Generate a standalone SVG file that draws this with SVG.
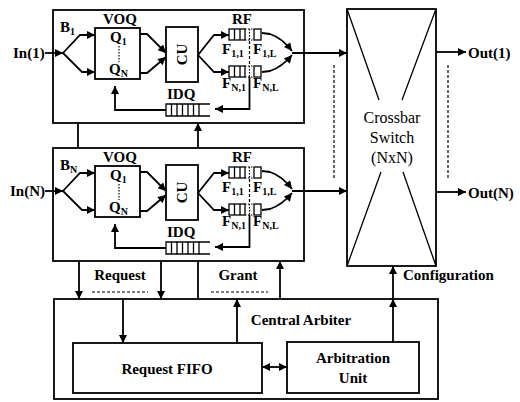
<svg xmlns="http://www.w3.org/2000/svg" width="520" height="402" viewBox="0 0 520 402">
<style>
text{font-family:"Liberation Serif","Times New Roman",serif;font-weight:bold;font-size:15px;fill:#000}
.n{font-weight:normal;font-size:16px}
.sub{font-size:10px}
.box{fill:none;stroke:#000;stroke-width:1.8}
.ln{fill:none;stroke:#000;stroke-width:1.8}
.a{marker-end:url(#ah)}
.dash{fill:none;stroke:#000;stroke-width:1.2;stroke-dasharray:3,2}
.dot{fill:none;stroke:#000;stroke-width:1.2;stroke-dasharray:1.5,1.5}
.thin{fill:none;stroke:#000;stroke-width:1.3}
</style>
<defs>
<marker id="ah" viewBox="0 0 10 10" refX="10" refY="5" markerWidth="10" markerHeight="8" markerUnits="userSpaceOnUse" orient="auto-start-reverse"><path d="M0,0 L10,5 L0,10 z" fill="#000"/></marker>
<g id="buf">
<rect class="box" x="53" y="10" width="251" height="113"/>
<path class="ln a" d="M45,53 L63,53"/>
<path class="ln a" d="M63,53 L80,35 L95,35"/>
<path class="ln a" d="M63,53 L82,72 L95,72"/>
<rect class="box" x="95" y="28" width="45" height="51"/>
<text x="120" y="24" text-anchor="middle">VOQ</text>
<text x="110" y="42">Q<tspan class="sub" dy="3">1</tspan></text>
<path class="dot" d="M119,46 L119,62"/>
<text x="109" y="74">Q<tspan class="sub" dy="3">N</tspan></text>
<path class="ln a" d="M140,34 L147,34 L166,53"/>
<path class="ln a" d="M140,73 L147,73 L166,57"/>
<rect class="box" x="166" y="27" width="32" height="55"/>
<text transform="translate(182,54.5) rotate(-90)" text-anchor="middle" dominant-baseline="central" font-size="18">CU</text>
<path class="ln a" d="M198,55 L214,35 L229,35"/>
<path class="ln a" d="M198,55 L214,72 L229,72"/>
<text x="232" y="24" font-size="14">RF</text>
<g>
<rect class="thin" x="229" y="29" width="16" height="11"/>
<path class="thin" d="M234.5,29 V40 M240,29 V40"/>
<path class="dot" d="M245,29 H254 M245,40 H254 M249.5,29 V40"/>
<rect class="thin" x="254" y="29" width="7" height="11"/>
</g>
<g>
<rect class="thin" x="229" y="66" width="16" height="11"/>
<path class="thin" d="M234.5,66 V77 M240,66 V77"/>
<path class="dot" d="M245,66 H254 M245,77 H254 M249.5,66 V77"/>
<rect class="thin" x="254" y="66" width="7" height="11"/>
</g>
<path class="dash" d="M249.5,41 L249.5,65"/>
<text x="222" y="54">F<tspan class="sub" dy="3">1,1</tspan></text>
<text x="253" y="54">F<tspan class="sub" dy="3">1,L</tspan></text>
<text x="222" y="88">F<tspan class="sub" dy="3">N,1</tspan></text>
<text x="253" y="88">F<tspan class="sub" dy="3">N,L</tspan></text>
<path class="ln a" d="M249.5,77 L249.5,109 L215,109"/>
<text x="167" y="99">IDQ</text>
<path class="thin" d="M210,104 H166 V116 H210 M171.5,104 V116 M177,104 V116 M182.5,104 V116 M188,104 V116 M193.5,104 V116 M199,104 V116"/>
<path class="ln a" d="M166,110 L115,110 L115,86"/>
<path class="ln a" d="M262,33 L270,34 Q282,38 292,51"/>
<path class="ln a" d="M262,72 L270,71 Q282,67 292,55"/>
<path class="ln a" d="M292,53 L347,53"/>
</g>
</defs>
<g id="B1">
<use href="#buf"/>
<text x="13" y="58">In(1)</text>
<text x="60" y="32">B<tspan class="sub" dy="3">1</tspan></text>
</g>
<g id="BN" transform="translate(0,138)">
<use href="#buf"/>
<text x="10" y="58">In(N)</text>
<text x="60" y="32">B<tspan class="sub" dy="3">N</tspan></text>
</g>
<g id="crossbar">
<rect class="box" x="347" y="9" width="89" height="257"/>
<path class="thin" d="M347,9 L379,100 M436,9 L402,100 M381,172 L347,266 M403,172 L436,266"/>
<text class="n" x="392" y="123" text-anchor="middle">Crossbar</text>
<text class="n" x="392" y="143" text-anchor="middle">Switch</text>
<text class="n" x="392" y="163" text-anchor="middle">(NxN)</text>
</g>
<g id="central-arbiter">
<rect class="box" x="54" y="299" width="384" height="100"/>
<text x="301" y="325" text-anchor="middle">Central Arbiter</text>
</g>
<g id="request-fifo">
<rect class="box" x="73" y="343" width="189" height="50"/>
<text x="167" y="374" text-anchor="middle">Request FIFO</text>
</g>
<g id="arbitration-unit">
<rect class="box" x="287" y="342" width="132" height="51"/>
<text x="353" y="363" text-anchor="middle">Arbitration</text>
<text x="353" y="383" text-anchor="middle">Unit</text>
</g>
<g id="connectors">
<path class="ln a" d="M436,52 L466,52"/>
<path class="ln a" d="M436,192 L466,192"/>
<path class="dash" d="M448,65 L448,178"/>
<path class="dash" d="M334,65 L334,178"/>
<path class="ln" d="M78,123 L78,148"/>
<path class="ln a" d="M198,148 L198,123"/>
<path class="ln a" d="M79,261 L79,299"/>
<path class="ln a" d="M161,261 L161,299"/>
<path class="ln" d="M198,261 L198,299"/>
<path class="ln a" d="M280,299 L280,261"/>
<path class="ln a" d="M123,299 L123,343"/>
<path class="ln a" d="M237,343 L237,299"/>
<path class="ln a" d="M393,342 L393,299"/>
<path class="ln a" d="M393,299 L393,266"/>
<path class="ln a" d="M262,367 L287,367" marker-start="url(#ah)"/>
<path class="dash" d="M92,292 L148,292"/>
<path class="dash" d="M211,292 L268,292"/>
</g>
<g id="labels">
<text x="468" y="58">Out(1)</text>
<text x="468" y="198">Out(N)</text>
<text x="403" y="280">Configuration</text>
<text x="120" y="280" text-anchor="middle">Request</text>
<text x="238" y="280" text-anchor="middle">Grant</text>
</g>
</svg>
